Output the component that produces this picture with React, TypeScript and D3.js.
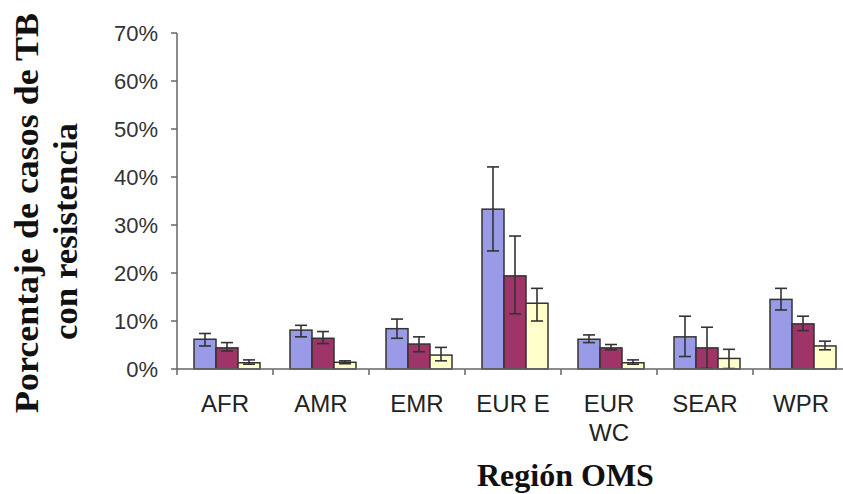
import React from "react";
import * as d3 from "d3";

// regions and the three drug-resistance series (percent)
const categories = ["AFR", "AMR", "EMR", "EUR E", "EUR WC", "SEAR", "WPR"];
const categoryLines = [["AFR"], ["AMR"], ["EMR"], ["EUR E"], ["EUR", "WC"], ["SEAR"], ["WPR"]];
const seriesKeys = ["s1", "s2", "s3"];

const s1Values = [6.2, 8.1, 8.4, 33.3, 6.2, 6.7, 14.5];
const s1Low = [4.8, 6.7, 6.4, 24.6, 5.5, 2.6, 12.3];
const s1High = [7.4, 9.1, 10.4, 42.1, 7.1, 11.0, 16.8];

const s2Values = [4.4, 6.4, 5.2, 19.4, 4.4, 4.4, 9.4];
const s2Low = [3.75, 5.3, 3.6, 11.5, 4.0, 0.1, 8.0];
const s2High = [5.5, 7.8, 6.7, 27.7, 5.1, 8.7, 11.0];

const s3Values = [1.3, 1.4, 2.9, 13.7, 1.3, 2.2, 4.8];
const s3Low = [1.0, 1.1, 1.7, 10.0, 1.0, 0.1, 4.0];
const s3High = [1.9, 1.7, 4.5, 16.8, 1.9, 4.1, 5.8];

const yTicks = [0, 10, 20, 30, 40, 50, 60, 70];

const colors = ["#9a9be6", "#9e3468", "#ffffcc"];

export default function App() {
  const width = 843;
  const height = 494;
  const left = 177;
  const bottom = 369;
  const top = 33;

  const x0 = d3.scaleBand().domain(categories).range([left, left + 96 * 7]).padding(0);
  const x1 = d3.scaleBand().domain(seriesKeys).range([17, 83]).padding(0);
  const y = d3.scaleLinear().domain([0, 70]).range([bottom, top]);

  const rows = categories.map((c, i) => ({
    cat: c,
    bars: [
      { key: "s1", v: s1Values[i], lo: s1Low[i], hi: s1High[i] },
      { key: "s2", v: s2Values[i], lo: s2Low[i], hi: s2High[i] },
      { key: "s3", v: s3Values[i], lo: s3Low[i], hi: s3High[i] },
    ],
  }));

  const axisColor = "#666";
  const capW = 6;

  return (
    <svg
      width={width}
      height={height}
      style={{ position: "fixed", left: 0, top: 0, background: "#fff" }}
    >
      {/* y axis */}
      <line x1={left} x2={left} y1={top} y2={bottom} stroke={axisColor} strokeWidth={1.5} />
      {yTicks.map((t) => (
        <g key={t}>
          <line x1={left - 6} x2={left} y1={y(t)} y2={y(t)} stroke={axisColor} strokeWidth={1.5} />
          <text
            x={158}
            y={y(t)}
            dy="0.36em"
            textAnchor="end"
            fontFamily="Liberation Sans, Arial, sans-serif"
            fontSize={22}
            fill="#333"
          >
            {t}%
          </text>
        </g>
      ))}

      {/* bars */}
      {rows.map((r) => (
        <g key={r.cat} transform={`translate(${x0(r.cat)},0)`}>
          {r.bars.map((b, j) => (
            <rect
              key={b.key}
              x={x1(b.key)}
              y={y(b.v)}
              width={x1.bandwidth()}
              height={y(0) - y(b.v)}
              fill={colors[j]}
              stroke="#333"
              strokeWidth={1.5}
            />
          ))}
          {r.bars.map((b) => {
            const cx = (x1(b.key) as number) + x1.bandwidth() / 2;
            return (
              <g key={b.key + "e"} stroke="#333" strokeWidth={1.6}>
                <line x1={cx} x2={cx} y1={y(b.hi)} y2={y(b.lo)} />
                <line x1={cx - capW} x2={cx + capW} y1={y(b.hi)} y2={y(b.hi)} />
                <line x1={cx - capW} x2={cx + capW} y1={y(b.lo)} y2={y(b.lo)} />
              </g>
            );
          })}
        </g>
      ))}

      {/* x axis */}
      <line x1={left} x2={width} y1={bottom} y2={bottom} stroke={axisColor} strokeWidth={1.5} />
      {categories.map((c) => (
        <line
          key={c}
          x1={x0(c)}
          x2={x0(c)}
          y1={bottom}
          y2={bottom + 6}
          stroke={axisColor}
          strokeWidth={1.5}
        />
      ))}
      {categories.map((c, i) => (
        <text
          key={c}
          x={(x0(c) as number) + x0.bandwidth() / 2}
          y={412}
          textAnchor="middle"
          fontFamily="Liberation Sans, Arial, sans-serif"
          fontSize={24}
          fill="#222"
        >
          {categoryLines[i].map((ln, k) => (
            <tspan key={k} x={(x0(c) as number) + x0.bandwidth() / 2} dy={k === 0 ? 0 : 29}>
              {ln}
            </tspan>
          ))}
        </text>
      ))}

      {/* axis titles */}
      <text
        x={477}
        y={486}
        fontFamily="Liberation Serif, Times New Roman, serif"
        fontWeight="bold"
        fontSize={32}
        fill="#111"
      >
        Región OMS
      </text>
      <text
        transform="translate(38,413) rotate(-90)"
        fontFamily="Liberation Serif, Times New Roman, serif"
        fontWeight="bold"
        fontSize={33}
        fill="#111"
        textLength={400}
        lengthAdjust="spacingAndGlyphs"
      >
        Porcentaje de casos de TB
      </text>
      <text
        transform="translate(77,340) rotate(-90)"
        fontFamily="Liberation Serif, Times New Roman, serif"
        fontWeight="bold"
        fontSize={33}
        fill="#111"
        textLength={217}
        lengthAdjust="spacingAndGlyphs"
      >
        con resistencia
      </text>
    </svg>
  );
}
